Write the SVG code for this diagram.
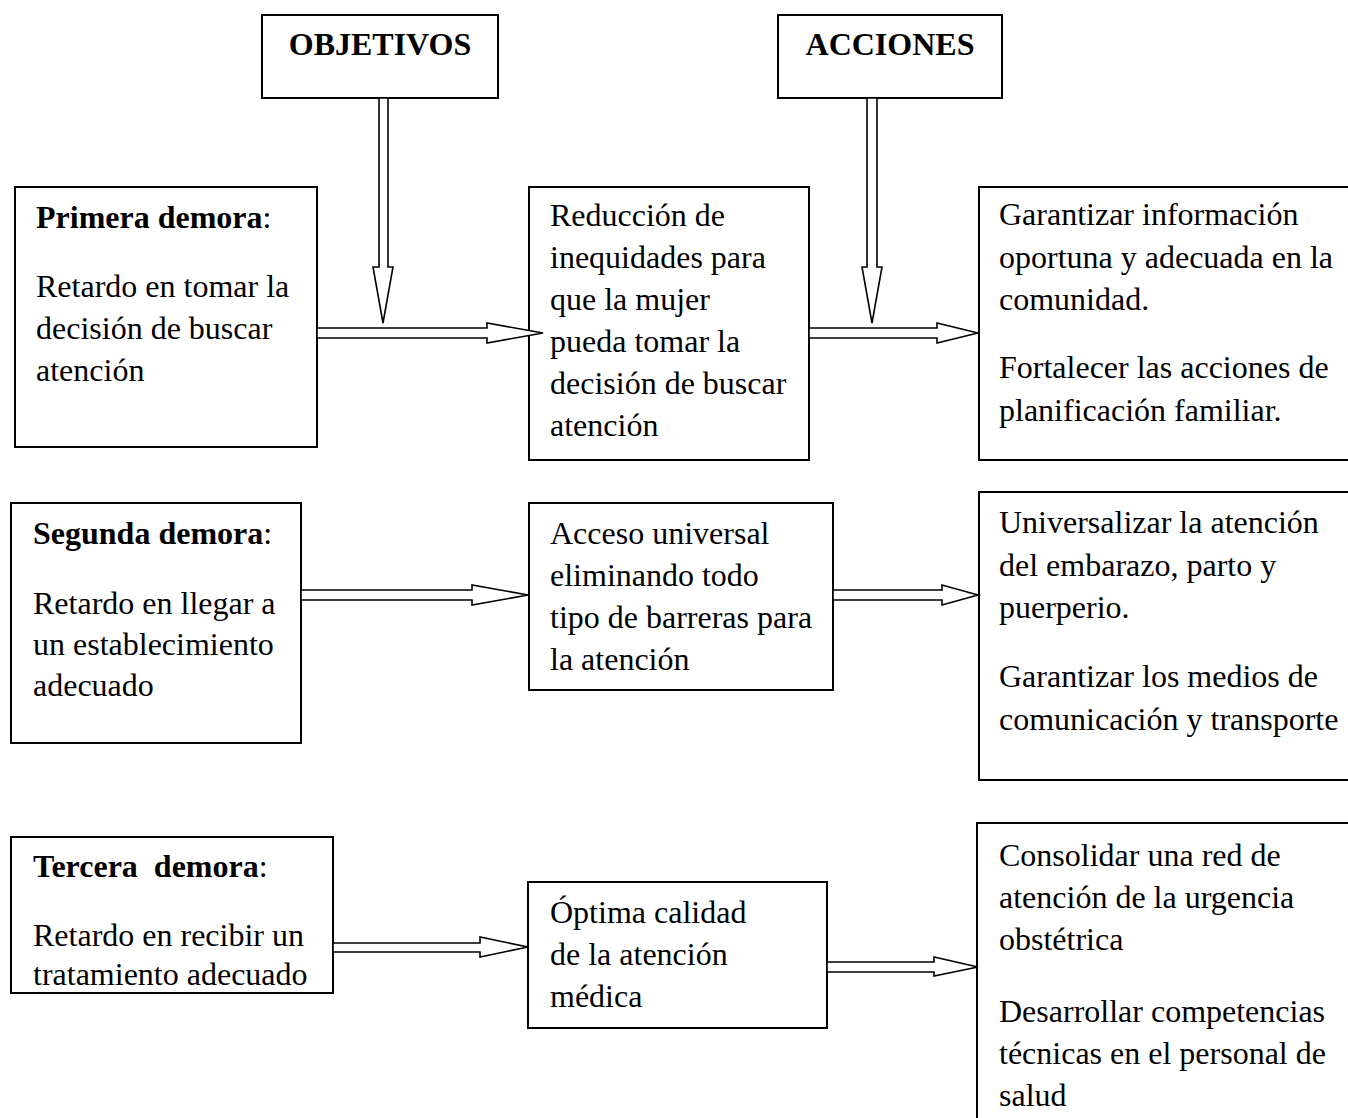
<svg xmlns="http://www.w3.org/2000/svg" width="1348" height="1118" viewBox="0 0 1348 1118">
<style>
.box{fill:#fff;stroke:#000;stroke-width:2}
.arr{fill:#fff;stroke:#000;stroke-width:1.6;stroke-linejoin:miter}
text{font-family:"Liberation Serif","Times New Roman",serif;font-size:32px;fill:#000}
.b{font-weight:bold}
</style>
<rect width="1348" height="1118" fill="#fff"/>
<g id="objetivos"><rect class="box" x="262" y="15" width="236" height="83"/><text class="b" x="380" y="55" text-anchor="middle">OBJETIVOS</text></g>
<g id="acciones"><rect class="box" x="778" y="15" width="224" height="83"/><text class="b" x="890" y="55" text-anchor="middle">ACCIONES</text></g>
<g id="primera"><rect class="box" x="15" y="187" width="302" height="260"/>
<text x="36" y="228"><tspan class="b">Primera demora</tspan>:</text>
<text x="36" y="297">Retardo en tomar la</text><text x="36" y="339">decisión de buscar</text><text x="36" y="381">atención</text></g>
<g id="reduccion"><rect class="box" x="529" y="187" width="280" height="273"/>
<text x="550" y="226">Reducción de</text><text x="550" y="268">inequidades para</text><text x="550" y="310">que la mujer</text><text x="550" y="352">pueda tomar la</text><text x="550" y="394">decisión de buscar</text><text x="550" y="436">atención</text></g>
<g id="acc1"><rect class="box" x="979" y="187" width="380" height="273"/>
<text x="999" y="225">Garantizar información</text><text x="999" y="268">oportuna y adecuada en la</text><text x="999" y="310">comunidad.</text><text x="999" y="378">Fortalecer las acciones de</text><text x="999" y="421">planificación familiar.</text></g>
<g id="segunda"><rect class="box" x="11" y="503" width="290" height="240"/>
<text x="33" y="544"><tspan class="b">Segunda demora</tspan>:</text>
<text x="33" y="614">Retardo en llegar a</text><text x="33" y="655">un establecimiento</text><text x="33" y="696">adecuado</text></g>
<g id="acceso"><rect class="box" x="529" y="503" width="304" height="187"/>
<text x="550" y="544">Acceso universal</text><text x="550" y="586">eliminando todo</text><text x="550" y="628">tipo de barreras para</text><text x="550" y="670">la atención</text></g>
<g id="acc2"><rect class="box" x="979" y="492" width="380" height="288"/>
<text x="999" y="533">Universalizar la atención</text><text x="999" y="576">del embarazo, parto y</text><text x="999" y="618">puerperio.</text><text x="999" y="687">Garantizar los medios de</text><text x="999" y="730">comunicación y transporte</text></g>
<g id="tercera"><rect class="box" x="11" y="837" width="322" height="156"/>
<text x="33" y="877" xml:space="preserve"><tspan class="b">Tercera  demora</tspan>:</text>
<text x="33" y="946">Retardo en recibir un</text><text x="33" y="985">tratamiento adecuado</text></g>
<g id="optima"><rect class="box" x="528" y="882" width="299" height="146"/>
<text x="550" y="923">Óptima calidad</text><text x="550" y="965">de la atención</text><text x="550" y="1007">médica</text></g>
<g id="acc3"><rect class="box" x="977" y="823" width="382" height="310"/>
<text x="999" y="866">Consolidar una red de</text><text x="999" y="908">atención de la urgencia</text><text x="999" y="950">obstétrica</text><text x="999" y="1022">Desarrollar competencias</text><text x="999" y="1064">técnicas en el personal de</text><text x="999" y="1106">salud</text></g>
<g id="connectors">
<polygon class="arr" points="379,98 388,98 388,267 393,267 383,323 373,267 379,267"/>
<polygon class="arr" points="867,98 877,98 877,267 882,267 872,323 862,267 867,267"/>
<polygon class="arr" points="317,328 487,328 487,323 543,333 487,343 487,338 317,338"/>
<polygon class="arr" points="809,328 937,328 937,323 978,333 937,343 937,338 809,338"/>
<polygon class="arr" points="301,590 472,590 472,585 528,595 472,605 472,600 301,600"/>
<polygon class="arr" points="833,590 942,590 942,585 978,595 942,605 942,600 833,600"/>
<polygon class="arr" points="333,943 480,943 480,937 528,947 480,957 480,952 333,952"/>
<polygon class="arr" points="827,962 934,962 934,957 978,967 934,976 934,972 827,972"/>
</g>
</svg>
